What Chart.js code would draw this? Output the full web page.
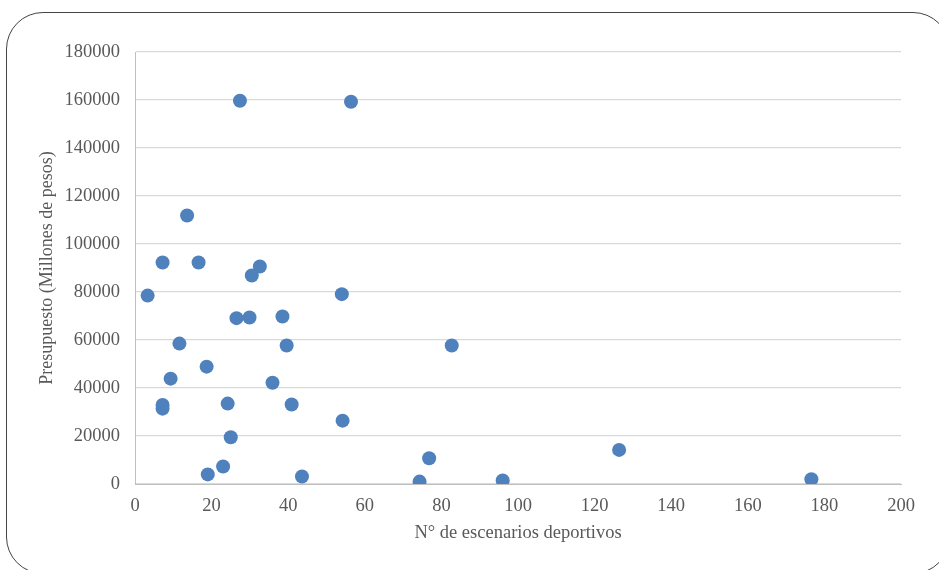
<!DOCTYPE html>
<html>
<head>
<meta charset="utf-8">
<script src="https://cdn.jsdelivr.net/npm/chart.js@4.4.1/dist/chart.umd.min.js"></script>
<style>
  html, body { margin: 0; padding: 0; background: #fff; overflow: hidden; }
  #wrap { position: relative; width: 939px; height: 570px; }
  #frame {
    position: absolute; left: 6px; top: 12px; width: 944px; height: 562px;
    border: 1.3px solid #444; border-radius: 37px; box-sizing: border-box;
  }
  canvas { position: absolute; left: 0; top: 0; }
</style>
</head>
<body>
<div id="wrap">
  <div id="frame"></div>
  <canvas id="scatterChart" width="939" height="570"></canvas>
</div>
<script>
// N° de escenarios deportivos
const escenarios = [27.4, 56.4, 13.6, 7.2, 16.6, 32.6, 30.5, 3.3, 54.0, 26.5, 29.9, 38.5,
  11.6, 39.6, 82.7, 18.7, 9.3, 35.9, 7.2, 7.2, 24.2, 40.9, 54.2, 25.0,
  76.8, 126.4, 23.0, 19.0, 43.6, 74.3, 96.0, 176.6];
// Presupuesto (Millones de pesos)
const presupuesto = [159700, 159300, 111900, 92300, 92300, 90600, 86900, 78500, 79100, 69100, 69400, 69800,
  58500, 57700, 57700, 48900, 43900, 42200, 32900, 31400, 33500, 33100, 26400, 19500,
  10700, 14200, 7300, 4000, 3100, 1000, 1500, 2000];

const xTitle = 'N° de escenarios deportivos';
const yTitle = 'Presupuesto (Millones de pesos)';

const points = escenarios.map((x, i) => ({ x: x, y: presupuesto[i] }));

const tickFont = { family: '"Liberation Serif", serif', size: 18.5 };
const textColor = '#595959';

new Chart(document.getElementById('scatterChart').getContext('2d'), {
  type: 'scatter',
  data: {
    datasets: [{
      label: yTitle,
      data: points,
      backgroundColor: '#4f81bd',
      borderColor: '#4f81bd',
      borderWidth: 0,
      pointRadius: 7,
      pointHoverRadius: 7
    }]
  },
  options: {
    responsive: false,
    animation: false,
    layout: { padding: { left: 34, right: 38, top: 52, bottom: 26 } },
    plugins: { legend: { display: false }, tooltip: { enabled: false } },
    scales: {
      x: {
        min: 0,
        max: 200,
        ticks: { stepSize: 20, color: textColor, font: tickFont, padding: 11, maxRotation: 0 },
        grid: { display: false, drawTicks: false },
        border: { color: '#bfbfbf', width: 1 },
        title: { display: true, text: xTitle, color: textColor, font: tickFont, padding: { top: 4, bottom: 0 } },
        afterFit: s => { s.height = 60; }
      },
      y: {
        min: 0,
        max: 180000,
        ticks: { stepSize: 20000, color: textColor, font: tickFont, padding: 15, callback: v => String(v) },
        grid: { color: '#d9d9d9', lineWidth: 1.3, drawTicks: false },
        border: { color: '#bfbfbf', width: 1 },
        title: { display: true, text: yTitle, color: textColor, font: { family: '"Liberation Serif", serif', size: 18 }, padding: { top: 2, bottom: 0 } },
        afterFit: s => { s.width = 101; }
      }
    }
  }
});
</script>
</body>
</html>
